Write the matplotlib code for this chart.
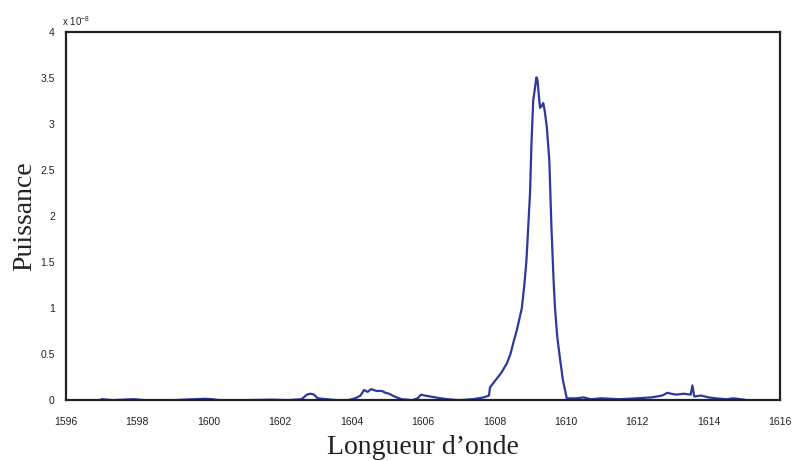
import matplotlib.pyplot as plt

plt.rcParams['font.family'] = ['Liberation Sans', 'DejaVu Sans']
plt.rcParams['mathtext.default'] = 'regular'

# spectre mesuré : longueur d'onde (nm) et puissance (x 1e-8)
longueur = [1597.0, 1597.3, 1597.9, 1598.2, 1599.0, 1599.9, 1600.1, 1600.3, 1601.0, 1601.8,
            1602.2, 1602.6, 1602.75, 1602.85, 1602.95, 1603.05, 1603.3, 1603.6, 1603.9, 1604.1,
            1604.25, 1604.35, 1604.45, 1604.55, 1604.7, 1604.85, 1604.95, 1605.05, 1605.2, 1605.4,
            1605.7, 1605.85, 1605.95, 1606.05, 1606.2, 1606.35, 1606.5, 1606.7, 1607.0, 1607.4,
            1607.7, 1607.85, 1607.88, 1608.0, 1608.2, 1608.35, 1608.45, 1608.55, 1608.63, 1608.7,
            1608.77, 1608.84, 1608.9, 1609.0, 1609.04, 1609.09, 1609.14, 1609.18, 1609.21,
            1609.25, 1609.28, 1609.33, 1609.37, 1609.41, 1609.47, 1609.54, 1609.6, 1609.66, 1609.7,
            1609.76, 1609.84, 1609.92, 1610.03,
            1610.3, 1610.5, 1610.7, 1611.0, 1611.5, 1612.0, 1612.4, 1612.7, 1612.85, 1612.95,
            1613.1, 1613.3, 1613.5, 1613.55, 1613.6, 1613.8, 1614.0, 1614.2, 1614.5, 1614.7,
            1615.0]
puissance = [0.01, 0.0, 0.01, 0.0, 0.0, 0.015, 0.01, 0.0, 0.0, 0.005,
             0.0, 0.01, 0.06, 0.07, 0.06, 0.02, 0.01, 0.0, 0.0, 0.02,
             0.05, 0.11, 0.09, 0.12, 0.1, 0.1, 0.08, 0.07, 0.04, 0.01,
             0.0, 0.02, 0.06, 0.05, 0.04, 0.03, 0.02, 0.01, 0.0, 0.01,
             0.03, 0.05, 0.14, 0.2, 0.3, 0.4, 0.5, 0.65, 0.76, 0.88,
             1.0, 1.25, 1.52, 2.25, 2.79, 3.26, 3.4, 3.51, 3.48,
             3.3, 3.18, 3.2, 3.23, 3.15, 2.97, 2.61, 1.88, 1.3, 1.0,
             0.7, 0.45, 0.22, 0.02,
             0.02, 0.03, 0.01, 0.02, 0.01, 0.02, 0.03, 0.05, 0.08, 0.07,
             0.06, 0.07, 0.06, 0.16, 0.04, 0.05, 0.03, 0.02, 0.01, 0.02,
             0.005]

xticks = list(range(1596, 1617, 2))
yticks = [0, 0.5, 1, 1.5, 2, 2.5, 3, 3.5, 4]
ylabels = ['0', '0.5', '1', '1.5', '2', '2.5', '3', '3.5', '4']

fig, ax = plt.subplots(figsize=(7.95, 4.61), dpi=100)
plt.subplots_adjust(left=0.083, right=0.981, top=0.93, bottom=0.132)

ax.plot(longueur, puissance, color='#2b3a9c', linewidth=1.6)

ax.set_xlim(1596, 1616)
ax.set_ylim(0, 4)
ax.set_xticks(xticks)
ax.set_yticks(yticks)
ax.set_yticklabels(ylabels)
ax.tick_params(axis='both', length=0, labelsize=7.5, colors='#222222')
ax.tick_params(axis='x', pad=12)
ax.tick_params(axis='y', pad=8)
for s in ax.spines.values():
    s.set_linewidth(1.6)
    s.set_color('#222222')

ax.set_xlabel('Longueur d\u2019onde', family='Liberation Serif', fontsize=20,
              labelpad=6, color='#222222')
ax.set_ylabel('Puissance', family='Liberation Serif', fontsize=20,
              labelpad=2, color='#222222')
ax.text(-0.006, 1.012, r'x 10$^{-8}$', transform=ax.transAxes, fontsize=7,
        ha='left', va='bottom', color='#222222')

plt.savefig('out.png', dpi=100)
